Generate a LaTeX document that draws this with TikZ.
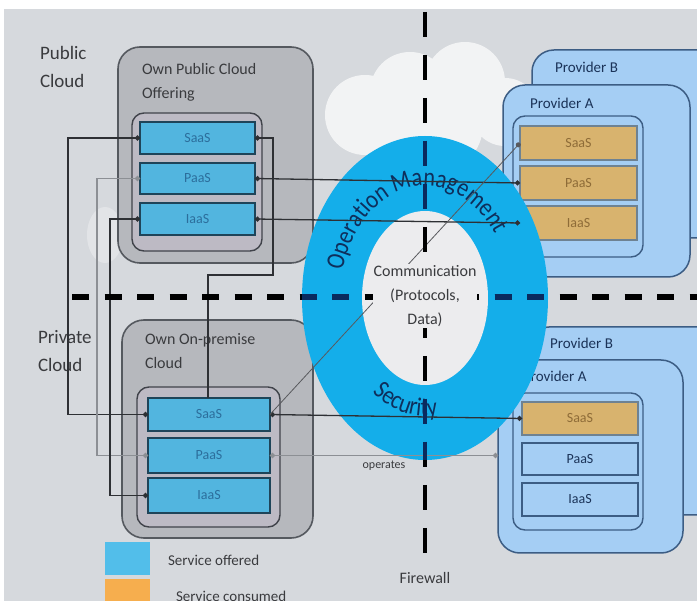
\documentclass[tikz,border=0pt]{standalone}
\usepackage{fontspec}
\setmainfont{Carlito}
\newfontfamily\ringfont[FakeStretch=0.85]{Carlito}
\usetikzlibrary{arrows.meta,decorations.text,calc}
\definecolor{bg}{HTML}{D6D9DD}
\definecolor{ownfill}{HTML}{B6B8BD}
\definecolor{owndraw}{HTML}{55595F}
\definecolor{innerfill}{HTML}{BDBAC4}
\definecolor{innerdraw}{HTML}{40434A}
\definecolor{svcfill}{HTML}{52B5DF}
\definecolor{svcdraw}{HTML}{1F4459}
\definecolor{svctext}{HTML}{2C6E9C}
\definecolor{provfill}{HTML}{A5CEF4}
\definecolor{provdraw}{HTML}{3C5D84}
\definecolor{consfill}{HTML}{D8B36E}
\definecolor{consdraw}{HTML}{6E8292}
\definecolor{constext}{HTML}{8E6C38}
\definecolor{ringc}{HTML}{14AEEA}
\definecolor{innerc}{HTML}{ECECEE}
\definecolor{ringtext}{HTML}{0E2F5C}
\definecolor{navydash}{HTML}{0A2A5E}
\definecolor{legblue}{HTML}{52BEEA}
\definecolor{legorange}{HTML}{F6AE4E}
\definecolor{connc}{HTML}{2E3034}
\definecolor{gconnc}{HTML}{8C8F94}
\definecolor{labelc}{HTML}{3A3B3E}
\definecolor{provtext}{HTML}{1B3358}
\tikzset{
  every node/.style={inner sep=0pt,outer sep=0pt},
  ownbox/.style={draw=owndraw,fill=ownfill,line width=1.6pt,rounded corners=22pt,anchor=north west},
  owninner/.style={draw=innerdraw,fill=innerfill,line width=1.4pt,rounded corners=12pt,anchor=north west},
  offered/.style={draw=svcdraw,fill=svcfill,line width=1.5pt,anchor=north west,text=svctext,font=\fontsize{14}{16}\selectfont},
  provbox/.style={draw=provdraw,fill=provfill,line width=1.5pt,rounded corners=22pt,anchor=north west},
  provinner/.style={draw=provdraw,fill=provfill,line width=1.4pt,rounded corners=12pt,anchor=north west},
  consumed/.style={draw=consdraw,fill=consfill,line width=1.5pt,anchor=north west,text=constext,font=\fontsize{14}{16}\selectfont},
  provsvc/.style={draw=provdraw,fill=provfill,line width=1.5pt,anchor=north west,text=provtext,font=\fontsize{14}{16}\selectfont},
  titletext/.style={anchor=north west,align=left,text=labelc,font=\fontsize{16}{24}\selectfont},
  bigtext/.style={anchor=north west,align=left,text=labelc,font=\fontsize{19}{28}\selectfont},
  provtitle/.style={anchor=west,text=provtext,font=\fontsize{15}{18}\selectfont},
  conn/.style={draw=connc,line width=1.3pt},
  gconn/.style={draw=gconnc,line width=1.6pt},
  dotboth/.style={{Circle[length=5pt]}-{Circle[length=5pt]}},
  dotend/.style={-{Circle[length=5pt]}},
  dotstart/.style={{Circle[length=5pt]}-},
  vdash/.style={line width=4pt,dash pattern=on 25pt off 18pt},
  hdash/.style={line width=5.5pt,dash pattern=on 17pt off 15.5pt},
}
\begin{document}
\begin{tikzpicture}[x=1pt,y=-1pt]
\clip (0,0) rectangle (697,601);
\fill[white] (0,0) rectangle (697,601);
\fill[bg] (4,9) rectangle (697,601);
% cloud behind
\fill[white,opacity=0.7] (365,115) circle[radius=40pt] (410,92) circle[radius=40pt]
  (465,82) circle[radius=40pt] (505,112) circle[radius=34pt] (435,125) circle[radius=48pt];
\fill[white,opacity=0.3] (105,235) ellipse[x radius=18pt,y radius=28pt];
% Public cloud own offering
\node[ownbox,minimum width=195pt,minimum height=216pt] (pubbox) at (118,47) {};
\node[titletext] (pubtitle) at (142,63) {Own Public Cloud\\Offering};
\node[owninner,minimum width=130pt,minimum height=138pt] (pubin) at (132,113) {};
\node[offered,minimum width=115pt,minimum height=32pt] (ps) at (140,122) {SaaS};
\node[offered,minimum width=115pt,minimum height=31pt] (pp) at (140,163) {PaaS};
\node[offered,minimum width=115pt,minimum height=32pt] (pi) at (140,203) {IaaS};
% On-premise
\node[ownbox,minimum width=191pt,minimum height=218pt] (onbox) at (122,320) {};
\node[titletext] (ontitle) at (145,333) {Own On-premise\\Cloud};
\node[owninner,minimum width=143pt,minimum height=140pt] (onin) at (137,387) {};
\node[offered,minimum width=122pt,minimum height=33pt] (os) at (148,398) {SaaS};
\node[offered,minimum width=122pt,minimum height=35pt] (op) at (148,438) {PaaS};
\node[offered,minimum width=122pt,minimum height=35pt] (oi) at (148,478) {IaaS};
% Providers top
\node[provbox,minimum width=200pt,minimum height=188pt] (pb1) at (532,50) {};
\node[provtitle] (pb1t) at (555,67) {Provider B};
\node[provbox,minimum width=187pt,minimum height=192pt] (pa1) at (503,85) {};
\node[provtitle] (pa1t) at (530,103) {Provider A};
\node[provinner,minimum width=130pt,minimum height=141pt] (pa1in) at (513,116) {};
\node[consumed,minimum width=117pt,minimum height=34pt] (as) at (520,126) {SaaS};
\node[consumed,minimum width=117pt,minimum height=34pt] (ap) at (520,166) {PaaS};
\node[consumed,minimum width=117pt,minimum height=34pt] (ai) at (520,206) {IaaS};
% Providers bottom
\node[provbox,minimum width=200pt,minimum height=188pt] (pb2) at (527,327) {};
\node[provtitle] (pb2t) at (550,343) {Provider B};
\node[provbox,minimum width=185pt,minimum height=193pt] (pa2) at (498,360) {};
\node[provtitle] (pa2t) at (523,376) {Provider A};
\node[provinner,minimum width=130pt,minimum height=137pt] (pa2in) at (513,393) {};
\node[consumed,minimum width=116pt,minimum height=33pt] (bs) at (522,402) {SaaS};
\node[provsvc,minimum width=116pt,minimum height=32pt] (bp) at (522,443) {PaaS};
\node[provsvc,minimum width=116pt,minimum height=33pt] (bi) at (522,483) {IaaS};
% Ring
\coordinate (ctr) at (425,298);
\fill[ringc] (ctr) ellipse[x radius=123pt,y radius=162pt];
\fill[innerc] (ctr) ellipse[x radius=63pt,y radius=87pt];
\path[decorate,decoration={text along path,text={|\ringfont\fontsize{26}{26}\selectfont|Operation Management},text align=center,text color=ringtext}]
  ($(ctr)+(-84.68,-9.76)$) arc[start angle=175,end angle=25,x radius=85pt,y radius=112pt];
\path[decorate,decoration={text along path,text={|\ringfont\fontsize{26}{26}\selectfont|Security},text align=center,text color=ringtext}]
  ($(ctr)+(-70.3,71.0)$) arc[start angle=217,end angle=297,x radius=88pt,y radius=118pt];
% labels
\node[bigtext] (publbl) at (40,46) {Public\\Cloud};
\node[bigtext] (privlbl) at (38,330) {Private\\Cloud};
% connectors
\draw[conn,dotboth] (ps.west) -- ++(-72,0) |- (os.west);
\draw[gconn,dotboth] (pp.west) -- ++(-43,0) |- (op.west);
\draw[conn,dotboth] (pi.west) -- ++(-30,0) |- (oi.west);
\draw[conn,dotstart] (ps.east) -- ++(18,0) -- ++(0,137) -| ([xshift=60pt]os.north west);
\draw[conn,dotboth] (pp.east) -- (ap.west);
\draw[conn,dotboth] (pi.east) -- (ai.west);
\draw[conn,dotboth] (os.east) -- (bs.west);
\draw[draw=connc!80,line width=0.8pt,dotend] (os.east) -- (as.west);
\draw[gconn,dotboth] (op.east) -- (op.east -| pa2.west)
  node[midway,below=5pt,text=labelc,font=\fontsize{12}{14}\selectfont] (oplbl) {operates};
% dashed lines
\coordinate (fwtop) at (425,12);
\coordinate (fwbot) at (425,565);
\coordinate (hl) at (72,297);
\coordinate (hr) at (697,297);
\draw[vdash,black] (fwtop) -- (fwbot);
\draw[hdash,black] (hl) -- (hr);
\begin{scope}[even odd rule]
  \clip (ctr) ellipse[x radius=123pt,y radius=162pt] (ctr) ellipse[x radius=63pt,y radius=87pt];
  \draw[vdash,navydash] (fwtop) -- (fwbot);
  \draw[hdash,navydash] (hl) -- (hr);
\end{scope}
\node[fill=innerc,align=center,text=labelc,font=\fontsize{16}{24}\selectfont,inner sep=1pt] (comm) at (425,296) {Communication\\(Protocols,\\Data)};
\node[text=labelc,font=\fontsize{16}{18}\selectfont] (fw) at (425,578) {Firewall};
% legend
\node[fill=legblue,minimum width=45pt,minimum height=33pt,anchor=north west] (lego) at (105,542) {};
\node[fill=legorange,minimum width=45pt,minimum height=30pt,anchor=north west] (legc) at (105,579) {};
\node[anchor=west,text=labelc,font=\fontsize{15}{18}\selectfont] (lot) at (168,560) {Service offered};
\node[anchor=west,text=labelc,font=\fontsize{15}{18}\selectfont] (lct) at (176,596) {Service consumed};
\end{tikzpicture}
\end{document}
